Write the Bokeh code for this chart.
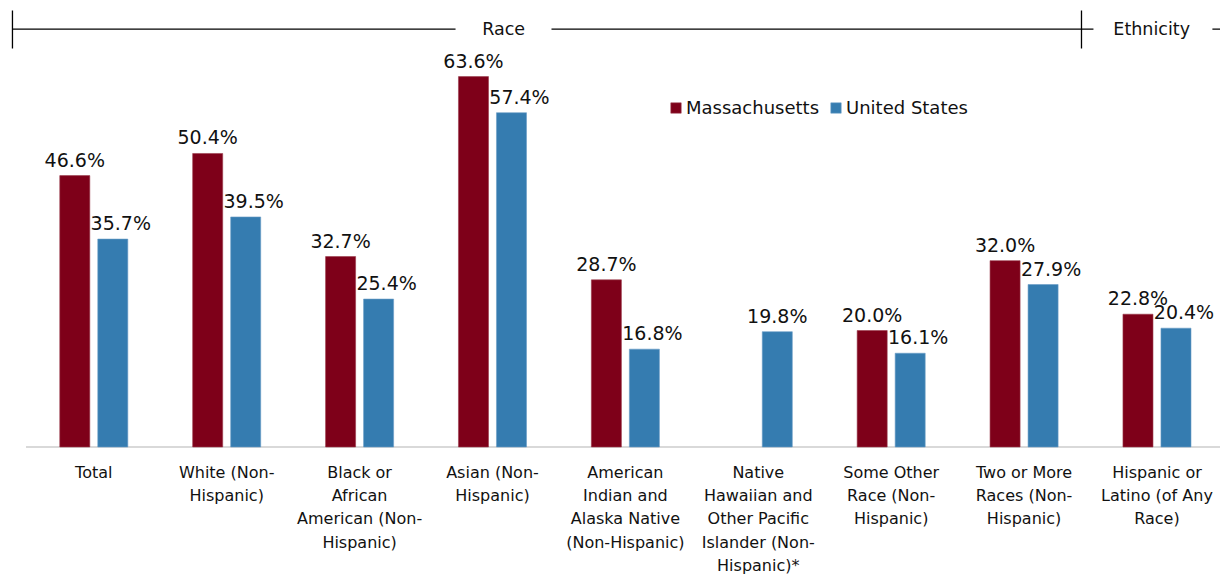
from bokeh.plotting import figure
from bokeh.models import ColumnDataSource, Range1d, Legend, LegendItem
from bokeh.transform import dodge
from bokeh.core.properties import value
from bokeh.embed import file_html
from bokeh.resources import INLINE

# ---------------- data ----------------
categories = [
    "Total",
    "White (Non-\nHispanic)",
    "Black or\nAfrican\nAmerican (Non-\nHispanic)",
    "Asian (Non-\nHispanic)",
    "American\nIndian and\nAlaska Native\n(Non-Hispanic)",
    "Native\nHawaiian and\nOther Pacific\nIslander (Non-\nHispanic)*",
    "Some Other\nRace (Non-\nHispanic)",
    "Two or More\nRaces (Non-\nHispanic)",
    "Hispanic or\nLatino (of Any\nRace)",
]
massachusetts = [46.6, 50.4, 32.7, 63.6, 28.7, None, 20.0, 32.0, 22.8]
united_states = [35.7, 39.5, 25.4, 57.4, 16.8, 19.8, 16.1, 27.9, 20.4]
series_names = ["Massachusetts", "United States"]
group_names = ["Race", "Ethnicity"]

# ---------------- style ----------------
MA_COLOR = "#7E0019"
US_COLOR = "#357CB0"
FONT = "DejaVu Sans"
TEXT_COLOR = "#111111"
BAR_W = 0.226
OFF = 0.143

xs = list(range(len(categories)))

ma_idx = [i for i, v in enumerate(massachusetts) if v is not None]
ma_src = ColumnDataSource(dict(
    x=[xs[i] for i in ma_idx],
    top=[massachusetts[i] for i in ma_idx],
    label=[f"{massachusetts[i]:.1f}%" for i in ma_idx],
))
us_src = ColumnDataSource(dict(
    x=xs,
    top=united_states,
    label=[f"{v:.1f}%" for v in united_states],
    xoff=[8 if massachusetts[i] is not None else 0 for i in range(len(xs))],
))
cat_src = ColumnDataSource(dict(x=xs, label=categories))

p = figure(width=1220, height=576,
           x_range=Range1d(-0.702, 8.478), y_range=Range1d(-22.24, 76.67),
           output_backend="svg", toolbar_location=None,
           x_axis_location=None, y_axis_location=None, min_border=0)
p.grid.visible = False
p.outline_line_color = None
p.background_fill_color = "white"
p.border_fill_color = "white"

# baseline
p.segment(x0=-0.51, x1=8.478, y0=0, y1=0, line_color="#D9D9D9", line_width=2)

r_ma = p.vbar(x=dodge("x", -OFF), top="top", width=BAR_W, bottom=0, source=ma_src,
              fill_color=MA_COLOR, line_color="#9a3a4c", line_width=0.6)
r_us = p.vbar(x=dodge("x", OFF), top="top", width=BAR_W, bottom=0, source=us_src,
              fill_color=US_COLOR, line_color="#6a9cc6", line_width=0.6)

# value labels
p.text(x=dodge("x", -OFF), y="top", text="label", source=ma_src,
       text_font=value(FONT), text_font_size="19px", text_color=TEXT_COLOR,
       text_align="center", text_baseline="alphabetic", y_offset=-16)
p.text(x=dodge("x", OFF), y="top", text="label", source=us_src,
       text_font=value(FONT), text_font_size="19px", text_color=TEXT_COLOR,
       text_align="center", text_baseline="alphabetic", y_offset=-16, x_offset="xoff")

# category labels
p.text(x="x", y=0, text="label", source=cat_src,
       text_font=value(FONT), text_font_size="16px", text_color=TEXT_COLOR,
       text_align="center", text_baseline="top", y_offset=16, text_line_height=1.22)

# group bracket
BR_Y = 71.77
p.segment(x0=[-0.612, 3.444, 8.417], x1=[2.722, 7.522, 8.478], y0=[BR_Y] * 3, y1=[BR_Y] * 3,
          line_color="black", line_width=1.3)
p.segment(x0=[-0.612, 7.432], x1=[-0.612, 7.432], y0=[74.95, 74.95], y1=[68.42, 68.42],
          line_color="black", line_width=1.3)
p.text(x=[3.084, 7.96], y=[BR_Y, BR_Y], text=group_names,
       text_font=value(FONT), text_font_size="17.5px", text_color=TEXT_COLOR,
       text_align="center", text_baseline="middle")

legend = Legend(items=[LegendItem(label=series_names[0], renderers=[r_ma]),
                       LegendItem(label=series_names[1], renderers=[r_us])],
                orientation="horizontal", location=(669, 458),
                label_text_font=FONT, label_text_font_size="18px",
                label_text_color=TEXT_COLOR,
                glyph_width=13, glyph_height=13, label_standoff=4, spacing=10,
                padding=0, margin=0, border_line_color=None,
                background_fill_alpha=0)
p.add_layout(legend, "center")

open("out.html", "w").write(file_html(p, INLINE))
